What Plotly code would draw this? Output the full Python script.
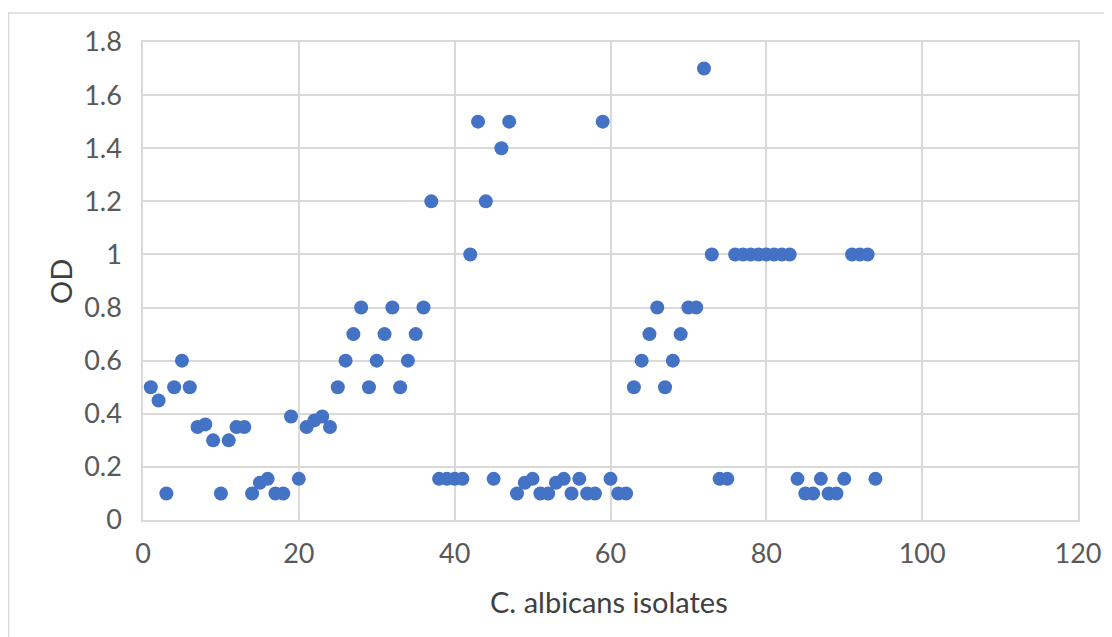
import plotly.graph_objects as go

isolates = list(range(1, 95))
od = [0.50, 0.45, 0.10, 0.50, 0.60, 0.50, 0.35, 0.36, 0.30, 0.10,
      0.30, 0.35, 0.35, 0.10, 0.14, 0.155, 0.10, 0.10, 0.39, 0.155,
      0.35, 0.375, 0.39, 0.35, 0.50, 0.60, 0.70, 0.80, 0.50, 0.60,
      0.70, 0.80, 0.50, 0.60, 0.70, 0.80, 1.20, 0.155, 0.155, 0.155,
      0.155, 1.00, 1.50, 1.20, 0.155, 1.40, 1.50, 0.10, 0.14, 0.155,
      0.10, 0.10, 0.14, 0.155, 0.10, 0.155, 0.10, 0.10, 1.50, 0.155,
      0.10, 0.10, 0.50, 0.60, 0.70, 0.80, 0.50, 0.60, 0.70, 0.80,
      0.80, 1.70, 1.00, 0.155, 0.155, 1.00, 1.00, 1.00, 1.00, 1.00,
      1.00, 1.00, 1.00, 0.155, 0.10, 0.10, 0.155, 0.10, 0.10, 0.155,
      1.00, 1.00, 1.00, 0.155]

x_title = "C. albicans isolates"
y_title = "OD"

# page body has an 8px margin, so the figure starts at (8, 8)
OFF = 8
W, H = 1112 - OFF, 637 - OFF
PL, PR, PT, PB = 143, 1078, 42, 520  # target plot area in screen pixels
L, R, T, B = PL - OFF, OFF + W - PR, PT - OFF, OFF + H - PB
pw, ph = PR - PL, PB - PT


def px(sx):
    return (sx - PL) / pw


def py(sy):
    return (PB - sy) / ph


fig = go.Figure(go.Scatter(
    x=isolates, y=od, mode="markers",
    marker=dict(size=14, color="#4472C4", line=dict(width=0)),
    hoverinfo="x+y",
))

font_family = "Lato, Open Sans, sans-serif"
grid = "#D9D9D9"

fig.update_layout(
    width=W, height=H,
    margin=dict(l=L, r=R, t=T, b=B),
    paper_bgcolor="white", plot_bgcolor="white",
    showlegend=False,
    font=dict(family=font_family, color="#595959", size=20),
    xaxis=dict(range=[0, 120], dtick=20, tick0=0, showgrid=True, gridcolor=grid,
               gridwidth=1.5, zeroline=False, showline=True, mirror=True,
               linecolor=grid, linewidth=1.5, ticks="", ticklabelstandoff=9,
               tickfont=dict(size=27, color="#595959"), fixedrange=True),
    yaxis=dict(range=[0, 1.8], dtick=0.2, tick0=0, showgrid=True, gridcolor=grid,
               gridwidth=1.5, zeroline=False, showline=True, mirror=True,
               linecolor=grid, linewidth=1.5, ticks="", ticklabelstandoff=14,
               tickfont=dict(size=27, color="#595959"), fixedrange=True),
    annotations=[
        dict(text=x_title, xref="paper", yref="paper",
             x=px(609), y=py(601), showarrow=False,
             xanchor="center", yanchor="middle",
             font=dict(size=29, color="#404040", family=font_family)),
        dict(text=y_title, xref="paper", yref="paper",
             x=px(60), y=py(282), showarrow=False, textangle=-90,
             xanchor="center", yanchor="middle",
             font=dict(size=29, color="#404040", family=font_family)),
    ],
    shapes=[
        dict(type="rect", xref="paper", yref="paper",
             x0=px(8.5), x1=px(1125),
             y0=py(650), y1=py(13),
             line=dict(color=grid, width=1.5), fillcolor="rgba(0,0,0,0)",
             layer="below"),
    ],
)

fig.write_html("out.html")
